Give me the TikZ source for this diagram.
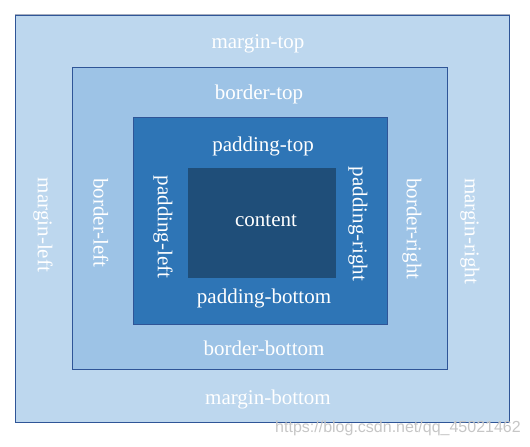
\documentclass[tikz,border=0pt]{standalone}
\usepackage{fontspec}
\setmainfont{Liberation Serif}
\setsansfont{Liberation Sans}
\definecolor{marginfill}{HTML}{BDD7EE}
\definecolor{borderfill}{HTML}{9DC3E6}
\definecolor{paddingfill}{HTML}{2E75B6}
\definecolor{contentfill}{HTML}{1F4E79}
\definecolor{edgeblue}{HTML}{2F5597}
\definecolor{edgegray}{HTML}{A6AEBF}
\tikzset{
	boxlayer/.style={draw=edgeblue, line width=1pt, inner sep=0pt},
	boxlabel/.style={text=white, inner sep=0pt, font=\fontsize{21}{25}\selectfont},
	sidelabel/.style={boxlabel, rotate=-90}
}
\begin{document}
\begin{tikzpicture}[x=1pt, y=-1pt]
			\useasboundingbox (0,0) rectangle (530,447);
			% the four boxes, from outside in
			\node (margin) [boxlayer, fill=marginfill, minimum width=494pt, minimum height=407pt] at (262,218.5) {};
			\draw [color=edgegray, line width=1.2pt] (margin.north west) -- (margin.north east);
			\node (border) [boxlayer, fill=borderfill, minimum width=375pt, minimum height=302pt] at (259.5,218) {};
			\node (padding) [boxlayer, fill=paddingfill, minimum width=254pt, minimum height=207pt] at (260,220.5) {};
			\node (content) [inner sep=0pt, fill=contentfill, minimum width=148pt, minimum height=110pt] at (262,223) {};
			% labels
			\node (margintop) [boxlabel] at (258,43.5) {margin-top};
			\node (bordertop) [boxlabel] at (259,94.5) {border-top};
			\node (paddingtop) [boxlabel] at (263,146.5) {padding-top};
			\node (contentlabel) [boxlabel] at (266,220.5) {content};
			\node (paddingbottom) [boxlabel] at (264,298.5) {padding-bottom};
			\node (borderbottom) [boxlabel] at (264,348.5) {border-bottom};
			\node (marginbottom) [boxlabel] at (268,399.5) {margin-bottom};
			\node (marginleft) [sidelabel] at (43,225) {margin-left};
			\node (borderleft) [sidelabel] at (101,223) {border-left};
			\node (paddingleft) [sidelabel] at (163,227) {padding-left};
			\node (paddingright) [sidelabel] at (358,224) {padding-right};
			\node (borderright) [sidelabel] at (412,229) {border-right};
			\node (marginright) [sidelabel] at (470,231) {margin-right};
			% watermark
			\node (watermark) [text=gray!45, inner sep=0pt, font=\sffamily\fontsize{16}{19}\selectfont] at (398,428) {https://blog.csdn.net/qq\_45021462};
		\end{tikzpicture}
\end{document}
